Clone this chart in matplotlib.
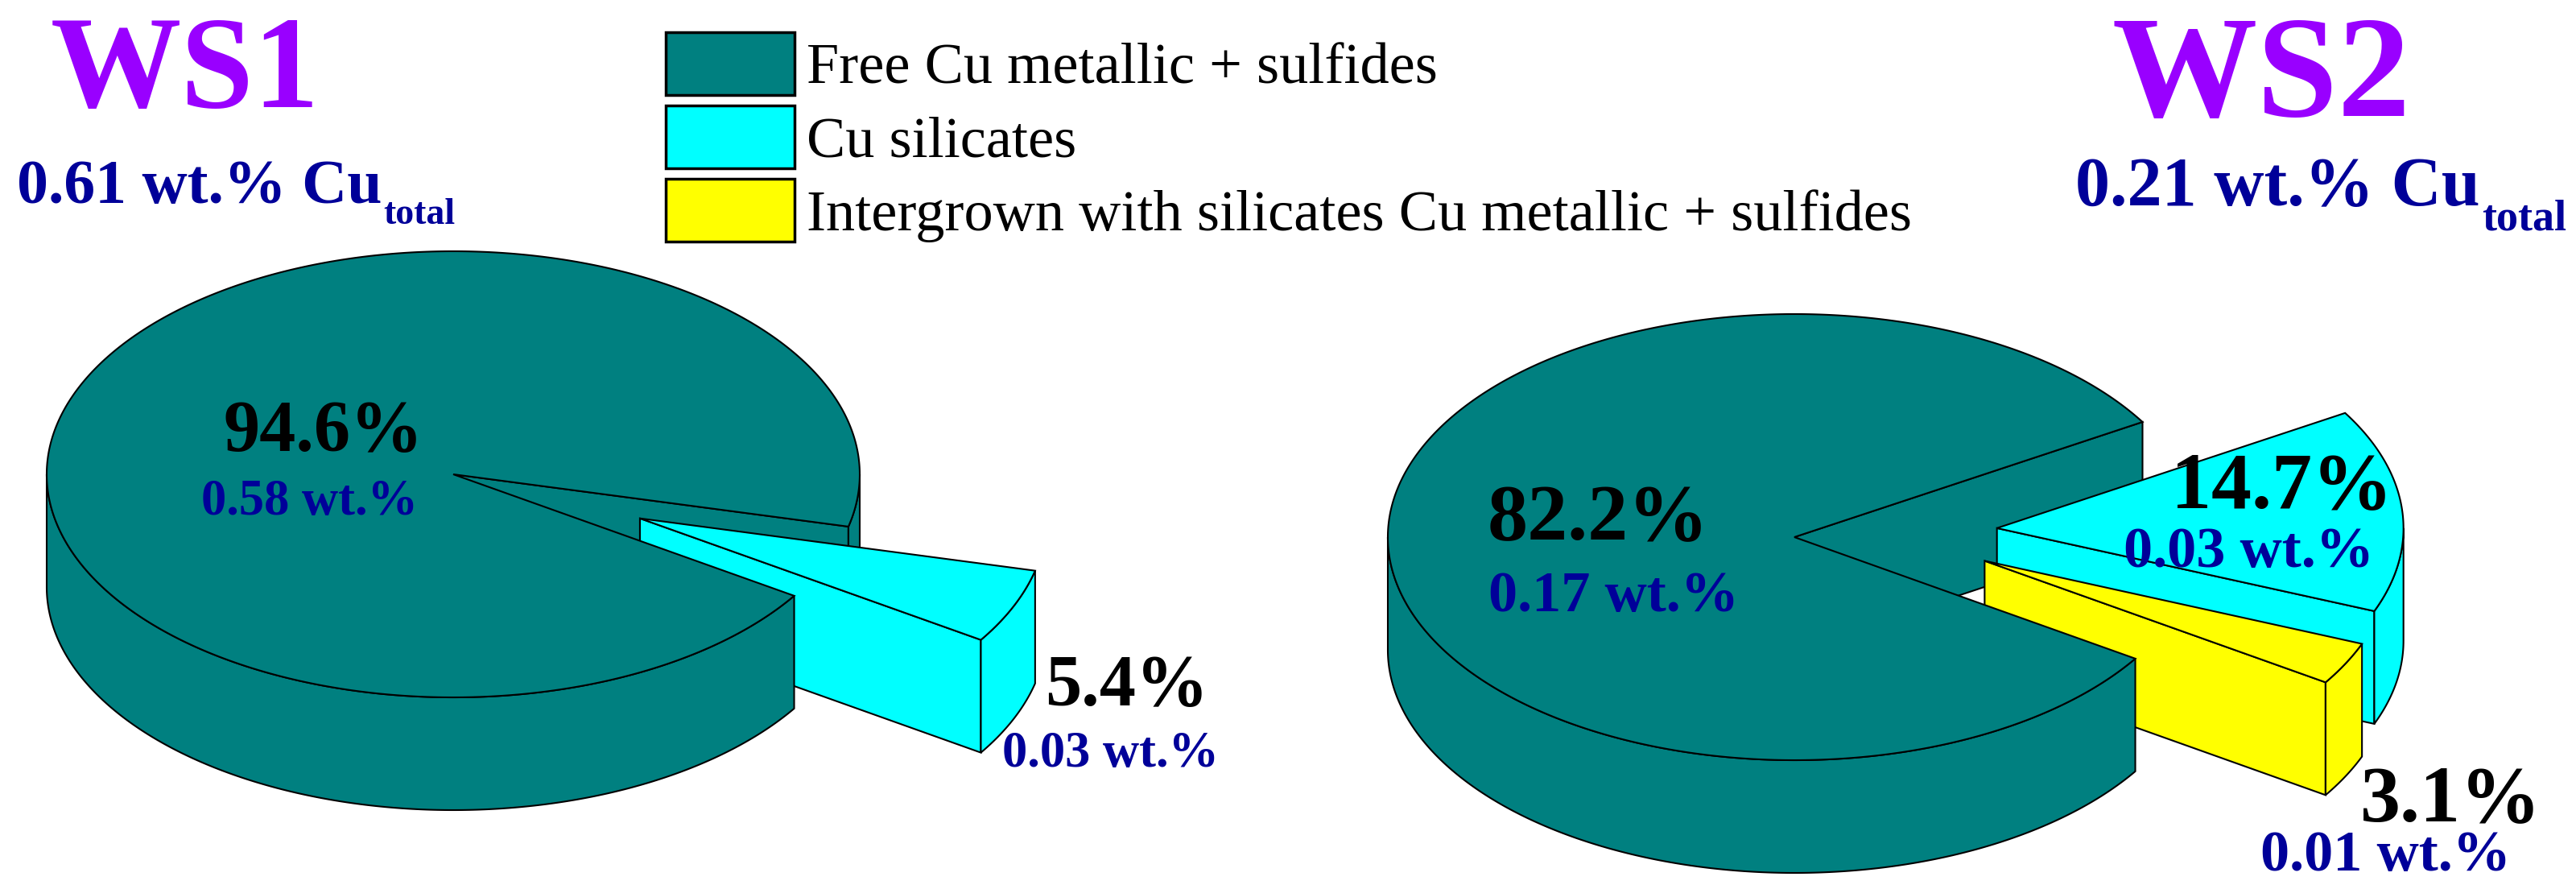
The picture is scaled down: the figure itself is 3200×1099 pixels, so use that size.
import numpy as np
import matplotlib.pyplot as plt
from matplotlib.patches import Polygon, Patch

# ---- data ----
categories = ['Free Cu metallic + sulfides', 'Cu silicates',
              'Intergrown with silicates Cu metallic + sulfides']
colors = ['#008080', '#00FFFF', '#FFFF00']

ws1_pct = [94.6, 5.4]
ws1_wt = [0.58, 0.03]
ws1_total = 0.61

ws2_pct = [82.2, 14.7, 3.1]
ws2_wt = [0.17, 0.03, 0.01]
ws2_total = 0.21

# explode: (distance as fraction of radius, direction in degrees or None = slice middle)
ws1_explode = [(0, None), (0.5, None)]
ws2_explode = [(0, None), (0.5, None), (0.48, -12.8)]

plt.rcParams['font.family'] = ['Liberation Serif', 'DejaVu Serif']

A, B, DEPTH = 505, 277, 140      # ellipse half axes and side height, px
START = -33.0                    # first slice starts here, slices run clockwise
EDGE = dict(edgecolor='black', linewidth=1.5, joinstyle='miter')
PURPLE = '#9900FF'
NAVY = '#000099'

fig = plt.figure(figsize=(32, 10.99), dpi=100)
ax = fig.add_axes([0, 0, 1, 1])
ax.set_xlim(0, 3200)
ax.set_ylim(1099, 0)
ax.axis('off')


def rim(cx, cy, th):
    t = np.radians(th)
    return cx + A * np.cos(t), cy - B * np.sin(t)


def slice_parts(cx, cy, lo, hi):
    '''top face, visible cut faces and visible outer walls of one slice'''
    th = np.linspace(lo, hi, max(int(hi - lo) * 2, 4))
    xs, ys = rim(cx, cy, th)
    top = np.column_stack([np.r_[cx, xs], np.r_[cy, ys]])

    cuts = []
    for ang, vis in ((lo, np.cos(np.radians(lo)) > 0), (hi, np.cos(np.radians(hi)) < 0)):
        if vis:
            rx, ry = rim(cx, cy, ang)
            cuts.append([(cx, cy), (rx, ry), (rx, ry + DEPTH), (cx, cy + DEPTH)])

    # walls split in two groups: the piece starting at lo (behind the gap) and the rest
    back, front = [], []
    breaks = [lo] + [k * 180 for k in range(int(np.ceil(lo / 180)), int(np.floor(hi / 180)) + 1)
                     if lo < k * 180 < hi] + [hi]
    for t0, t1 in zip(breaks[:-1], breaks[1:]):
        if np.sin(np.radians((t0 + t1) / 2)) < 0:
            tt = np.linspace(t0, t1, max(int(t1 - t0) * 2, 4))
            wx, wy = rim(cx, cy, tt)
            w = np.column_stack([np.r_[wx, wx[::-1]], np.r_[wy, wy[::-1] + DEPTH]])
            (back if t0 == lo else front).append(w)
    return cuts, back, front, top


def draw_pie(cx, cy, pct, explode):
    fr = np.array(pct) / np.sum(pct)
    cum = np.r_[0, np.cumsum(fr)]
    parts = []
    for i in range(len(pct)):
        hi = START - cum[i] * 360
        lo = START - cum[i + 1] * 360
        dist, direc = explode[i]
        if direc is None:
            direc = (lo + hi) / 2
        ox = dist * A * np.cos(np.radians(direc))
        oy = -dist * B * np.sin(np.radians(direc))
        parts.append(slice_parts(cx + ox, cy + oy, lo, hi))

    def add(poly, c):
        ax.add_patch(Polygon(poly, closed=True, facecolor=c, **EDGE))

    # the main slice's faces inside the gap sit behind the exploded slices
    cuts, back, front, top = parts[0]
    for q in cuts + back:
        add(q, colors[0])
    for i in range(1, len(parts)):
        c2, b2, f2, t2 = parts[i]
        for q in c2 + b2 + f2:
            add(q, colors[i])
        add(t2, colors[i])
    for q in front:
        add(q, colors[0])
    add(top, colors[0])


draw_pie(563, 589, ws1_pct, ws1_explode)
draw_pie(2229, 667, ws2_pct, ws2_explode)

# ---- titles ----
ax.text(63, 133, 'WS1', color=PURPLE, fontsize=117, fontweight='bold', va='baseline')
ax.text(2624, 144, 'WS2', color=PURPLE, fontsize=130, fontweight='bold', va='baseline')

renderer = fig.canvas.get_renderer()


def total_text(x, y, val, fs, sub_fs, sub_dy):
    t = ax.text(x, y, f'{val:.2f} wt.% Cu', color=NAVY, fontsize=fs,
                fontweight='bold', va='baseline')
    bb = t.get_window_extent(renderer=renderer)
    xr = ax.transData.inverted().transform((bb.x1, bb.y0))[0]
    ax.text(xr + 2, y + sub_dy, 'total', color=NAVY, fontsize=sub_fs,
            fontweight='bold', va='baseline')


total_text(21, 252, ws1_total, 56, 33, 26)
total_text(2578, 255, ws2_total, 62, 39, 30)

# ---- slice labels ----
ws1_pos = [(278, 560, 250, 639), (1298, 876, 1245, 952)]
ws2_pos = [(1848, 670, 1849, 759), (2697, 630, 2638, 704), (2932, 1019, 2808, 1081)]
for pct, wt, pos, fs in ((ws1_pct, ws1_wt, ws1_pos, (65, 45)),
                         (ws2_pct, ws2_wt, ws2_pos, (72, 52))):
    for p, w, (x1, y1, x2, y2) in zip(pct, wt, pos):
        ax.text(x1, y1, f'{p:.1f}%', color='black', fontsize=fs[0],
                fontweight='bold', va='baseline', zorder=5)
        ax.text(x2, y2, f'{w:.2f} wt.%', color=NAVY, fontsize=fs[1],
                fontweight='bold', va='baseline', zorder=5)

# ---- legend ----
handles = [Patch(facecolor=c, edgecolor='black', linewidth=2.5) for c in colors]
ax.legend(handles, categories, loc='upper left', bbox_to_anchor=(827 / 3200, 1 - 40 / 1099),
          frameon=False, fontsize=52, handlelength=2.22, handleheight=1.285,
          handletextpad=0.2, labelspacing=0.18, borderpad=0, borderaxespad=0)

fig.savefig('out.png', dpi=100)
